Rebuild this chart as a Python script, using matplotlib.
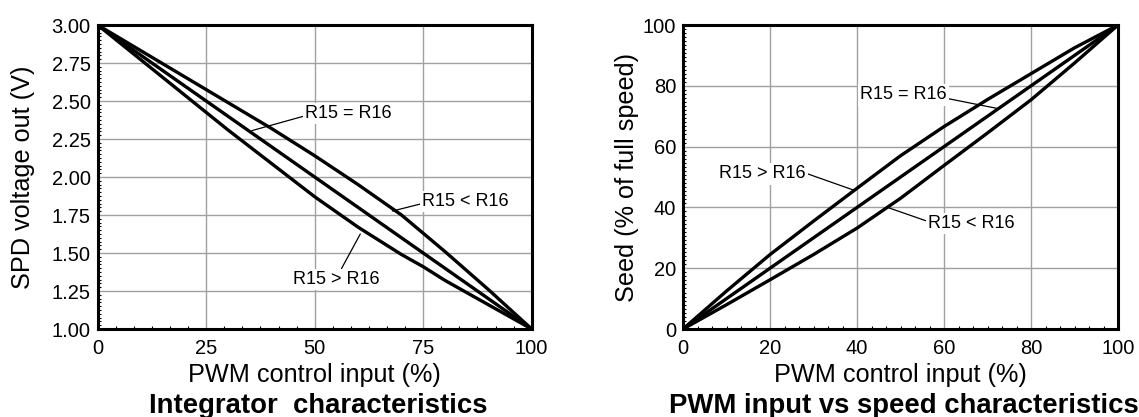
import numpy as np
import matplotlib
matplotlib.use('Agg')
import matplotlib.pyplot as plt
from matplotlib.ticker import MultipleLocator, AutoMinorLocator, FormatStrFormatter

plt.rcParams['font.family'] = ['Liberation Sans', 'DejaVu Sans']

# integrator characteristics (left)
pwm = [0, 10, 20, 30, 40, 50, 60, 70, 75, 80, 90, 100]
v_eq = [3.0, 2.8, 2.6, 2.4, 2.2, 2.0, 1.8, 1.6, 1.5, 1.4, 1.2, 1.0]
v_lt = [3.0, 2.83, 2.66, 2.49, 2.32, 2.14, 1.95, 1.75, 1.63, 1.51, 1.26, 1.0]
v_gt = [3.0, 2.77, 2.54, 2.31, 2.09, 1.87, 1.67, 1.49, 1.41, 1.32, 1.16, 1.0]

# PWM input vs speed (right)
s_eq = [0, 10, 20, 30, 40, 50, 60, 70, 80, 90, 100]
s_gt = [0, 12.5, 24.5, 35.5, 46.3, 57, 66.6, 75.5, 84, 92.5, 100]
s_lt = [0, 8, 16.2, 24.5, 33.2, 43, 53.8, 64.5, 75.4, 87.5, 100]

fig = plt.figure(figsize=(11.39, 4.17), dpi=100)
ax1 = fig.add_axes([0.0858, 0.211, 0.381, 0.729])
ax2 = fig.add_axes([0.5997, 0.211, 0.3819, 0.729])

lw = 2.4
bbox = dict(facecolor='white', edgecolor='none', pad=1.5)
fs_lab = 13
arrow = dict(arrowstyle='-', color='black', lw=0.9, shrinkA=0, shrinkB=0)

# left panel
for y in (v_eq, v_lt, v_gt):
    ax1.plot(pwm, y, color='black', lw=lw, zorder=3)
ax1.set_xlim(0, 100)
ax1.set_ylim(1.0, 3.0)
ax1.xaxis.set_major_locator(MultipleLocator(25))
ax1.yaxis.set_major_locator(MultipleLocator(0.25))
ax1.xaxis.set_minor_locator(AutoMinorLocator(6))
ax1.yaxis.set_minor_locator(MultipleLocator(0.025))
ax1.yaxis.set_major_formatter(FormatStrFormatter('%.2f'))
ax1.set_xlabel('PWM control input (%)', fontsize=18.2)
ax1.set_ylabel('SPD voltage out (V)', fontsize=18.2)
ax1.xaxis.set_label_coords(0.5, -0.174)
ax1.yaxis.set_label_coords(-0.172, 0.5)
ax1.text(0.508, -0.276, 'Integrator  characteristics', transform=ax1.transAxes,
         ha='center', va='baseline', fontsize=19.8, fontweight='bold')

ax1.annotate('R15 = R16', xy=(35.5, 2.305), xytext=(57.7, 2.419), fontsize=fs_lab,
             ha='center', va='center', bbox=bbox, zorder=5,
             arrowprops=dict(arrow, relpos=(0, 0.35)))
ax1.annotate('R15 < R16', xy=(67.9, 1.776), xytext=(84.8, 1.837), fontsize=fs_lab,
             ha='center', va='center', bbox=bbox, zorder=5,
             arrowprops=dict(arrow, relpos=(0, 0.4)))
ax1.annotate('R15 > R16', xy=(60.5, 1.625), xytext=(54.9, 1.327), fontsize=fs_lab,
             ha='center', va='center', bbox=bbox, zorder=5,
             arrowprops=dict(arrow, relpos=(0.55, 1)))

# right panel
for y in (s_eq, s_gt, s_lt):
    ax2.plot(s_eq, y, color='black', lw=lw, zorder=3)
ax2.set_xlim(0, 100)
ax2.set_ylim(0, 100)
ax2.xaxis.set_major_locator(MultipleLocator(20))
ax2.yaxis.set_major_locator(MultipleLocator(20))
ax2.xaxis.set_minor_locator(AutoMinorLocator(6))
ax2.yaxis.set_minor_locator(AutoMinorLocator(15))
ax2.set_xlabel('PWM control input (%)', fontsize=18.2)
ax2.set_ylabel('Seed (% of full speed)', fontsize=18.2)
ax2.xaxis.set_label_coords(0.5, -0.174)
ax2.yaxis.set_label_coords(-0.129, 0.5)
ax2.text(0.508, -0.276, 'PWM input vs speed characteristics', transform=ax2.transAxes,
         ha='center', va='baseline', fontsize=19.8, fontweight='bold')

ax2.annotate('R15 = R16', xy=(72.1, 72.6), xytext=(50.6, 77), fontsize=fs_lab,
             ha='center', va='center', bbox=bbox, zorder=5,
             arrowprops=dict(arrow, relpos=(1, 0.3)))
ax2.annotate('R15 > R16', xy=(39.2, 45.7), xytext=(18.2, 51), fontsize=fs_lab,
             ha='center', va='center', bbox=bbox, zorder=5,
             arrowprops=dict(arrow, relpos=(1, 0.55)))
ax2.annotate('R15 < R16', xy=(47, 40), xytext=(66.3, 34.8), fontsize=fs_lab,
             ha='center', va='center', bbox=bbox, zorder=5,
             arrowprops=dict(arrow, relpos=(0, 0.6)))

for ax in (ax1, ax2):
    ax.xaxis.label.set_va('baseline')
    ax.yaxis.label.set_va('center')
    ax.grid(True, which='major', color='#a0a0a0', lw=1.0)
    ax.set_axisbelow(True)
    for s in ax.spines.values():
        s.set_linewidth(2.2)
    ax.tick_params(which='major', direction='in', length=0, labelsize=14.5)
    ax.tick_params(axis='x', which='major', pad=7)
    ax.tick_params(axis='y', which='major', pad=5)
    ax.tick_params(which='minor', direction='in', length=2.5, width=0.8)

fig.savefig('out.png', dpi=100)
